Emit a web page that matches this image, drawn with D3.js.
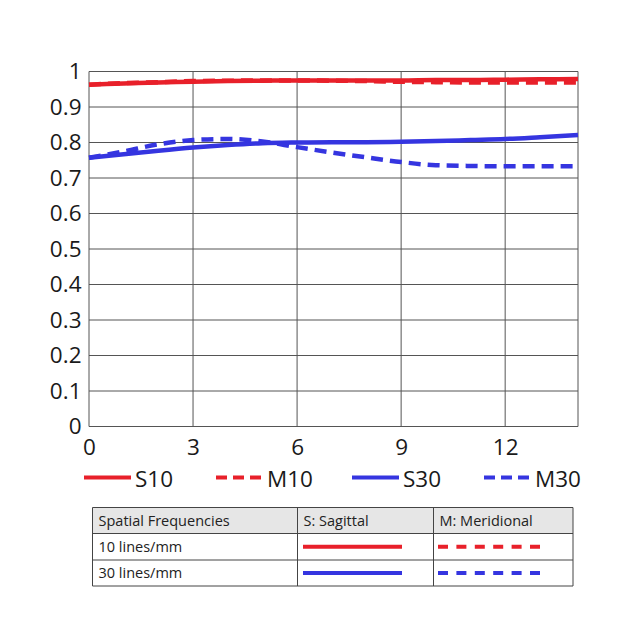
<!DOCTYPE html>
<html>
<head>
<meta charset="utf-8">
<script src="https://cdn.jsdelivr.net/npm/d3@7"></script>
<style>
  body { margin: 0; background: #fff; }
  svg text { font-family: "Open Sans", "DejaVu Sans", sans-serif; }
</style>
</head>
<body>
<div id="chart"></div>
<script>
// image height (mm) and MTF values
const imageHeight = [0, 1, 2, 3, 4, 5, 6, 7, 8, 9, 10, 11, 12, 13, 14.1];
const s10 = [0.963, 0.966, 0.969, 0.971, 0.973, 0.974, 0.975, 0.975, 0.975, 0.975, 0.976, 0.976, 0.977, 0.978, 0.979];
const m10 = [0.963, 0.967, 0.970, 0.973, 0.974, 0.975, 0.975, 0.974, 0.973, 0.971, 0.970, 0.969, 0.969, 0.969, 0.969];
const s30 = [0.757, 0.767, 0.777, 0.786, 0.793, 0.798, 0.800, 0.801, 0.801, 0.802, 0.804, 0.807, 0.810, 0.815, 0.821];
const m30 = [0.757, 0.775, 0.795, 0.807, 0.810, 0.803, 0.787, 0.772, 0.758, 0.745, 0.736, 0.734, 0.733, 0.733, 0.733];

const xTicks = [0, 3, 6, 9, 12];
const yTicks = [0, 0.1, 0.2, 0.3, 0.4, 0.5, 0.6, 0.7, 0.8, 0.9, 1];

const seriesNames = ["S10", "M10", "S30", "M30"];
const seriesColors = ["#e8202a", "#e8202a", "#3535e0", "#3535e0"];
const seriesDashed = [false, true, false, true];
const seriesValues = [s10, m10, s30, m30];

const tableHeader = ["Spatial Frequencies", "S: Sagittal", "M: Meridional"];
const tableRows = ["10 lines/mm", "30 lines/mm"];

const width = 640, height = 640;
const svg = d3.select("#chart").append("svg")
    .attr("width", width)
    .attr("height", height);

const x = d3.scaleLinear().domain([0, 14.1]).range([89, 578]);
const y = d3.scaleLinear().domain([0, 1]).range([426.5, 71.5]);

// grid
svg.append("g")
    .selectAll("line")
    .data(yTicks)
    .enter()
    .append("line")
    .attr("x1", x(0)).attr("x2", x(14.1))
    .attr("y1", d => y(d)).attr("y2", d => y(d))
    .attr("stroke", "#555").attr("stroke-width", 1);

svg.append("g")
    .selectAll("line")
    .data(xTicks.concat([14.1]))
    .enter()
    .append("line")
    .attr("x1", d => x(d)).attr("x2", d => x(d))
    .attr("y1", y(0)).attr("y2", y(1))
    .attr("stroke", "#555").attr("stroke-width", 1);

// axes (labels only)
const yAxis = svg.append("g")
    .attr("transform", "translate(" + x(0) + ",0)")
    .call(d3.axisLeft(y).tickValues(yTicks).tickSize(0).tickPadding(7.5).tickFormat(d => d3.format("")(+d.toFixed(1))));
yAxis.select(".domain").remove();
yAxis.selectAll("text").attr("font-size", "22.5px").attr("fill", "#1a1a1a");

const xAxis = svg.append("g")
    .attr("transform", "translate(0," + y(0) + ")")
    .call(d3.axisBottom(x).tickValues(xTicks).tickSize(0).tickPadding(12.5).tickFormat(d3.format("d")));
xAxis.select(".domain").remove();
xAxis.selectAll("text").attr("font-size", "22.5px").attr("fill", "#1a1a1a");

// curves
const line = d3.line()
    .x((d, i) => x(imageHeight[i]))
    .y(d => y(d))
    .curve(d3.curveMonotoneX);

seriesValues.forEach((vals, i) => {
    svg.append("path")
        .datum(vals)
        .attr("d", line)
        .attr("fill", "none")
        .attr("stroke", seriesColors[i])
        .attr("stroke-width", 4.5)
        .attr("stroke-dasharray", seriesDashed[i] ? "12,7" : null);
});

// legend
const legendX = [84, 216, 352, 484];
const legendY = 477.5;
seriesNames.forEach((name, i) => {
    const g = svg.append("g").attr("transform", "translate(" + legendX[i] + "," + legendY + ")");
    g.append("line")
        .attr("x1", 0).attr("x2", 47)
        .attr("y1", 0).attr("y2", 0)
        .attr("stroke", seriesColors[i])
        .attr("stroke-width", 4)
        .attr("stroke-dasharray", seriesDashed[i] ? "11,6" : null);
    g.append("text")
        .attr("x", 51).attr("y", 9.5)
        .attr("font-size", "22.5px")
        .attr("fill", "#1a1a1a")
        .text(name);
});

// table
const colX = [92.5, 297.5, 433.5, 573];
const rowY = [507.5, 533.5, 560, 586];

svg.append("rect")
    .attr("x", colX[0]).attr("y", rowY[0])
    .attr("width", colX[3] - colX[0]).attr("height", rowY[1] - rowY[0])
    .attr("fill", "#e6e6e6");

rowY.forEach(ry => {
    svg.append("line")
        .attr("x1", colX[0]).attr("x2", colX[3])
        .attr("y1", ry).attr("y2", ry)
        .attr("stroke", "#444").attr("stroke-width", 1);
});
colX.forEach(cx => {
    svg.append("line")
        .attr("x1", cx).attr("x2", cx)
        .attr("y1", rowY[0]).attr("y2", rowY[3])
        .attr("stroke", "#444").attr("stroke-width", 1);
});

tableHeader.forEach((t, i) => {
    svg.append("text")
        .attr("x", colX[i] + 6).attr("y", (rowY[0] + rowY[1]) / 2 + 5)
        .attr("font-size", "14.5px").attr("fill", "#222")
        .text(t);
});

tableRows.forEach((t, r) => {
    const cy = (rowY[r + 1] + rowY[r + 2]) / 2;
    svg.append("text")
        .attr("x", colX[0] + 6).attr("y", cy + 5)
        .attr("font-size", "14.5px").attr("fill", "#222")
        .text(t);
    const color = seriesColors[r * 2];
    svg.append("line")
        .attr("x1", 303).attr("x2", 402)
        .attr("y1", cy).attr("y2", cy)
        .attr("stroke", color).attr("stroke-width", 4);
    svg.append("line")
        .attr("x1", 438).attr("x2", 540)
        .attr("y1", cy).attr("y2", cy)
        .attr("stroke", color).attr("stroke-width", 4)
        .attr("stroke-dasharray", "10,8.4");
});
</script>
</body>
</html>
